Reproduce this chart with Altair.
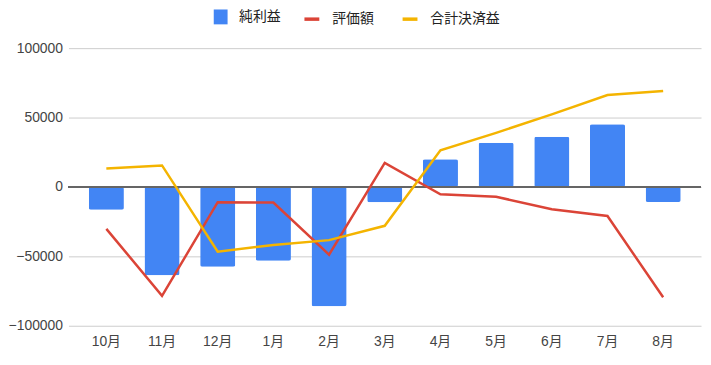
import altair as alt
import pandas as pd

months = ["10月", "11月", "12月", "1月", "2月", "3月", "4月", "5月", "6月", "7月", "8月"]
net_profit = [-16500, -63600, -57400, -53100, -86000, -11000, 20000, 31800, 36200, 45200, -10900]
valuation = [-30200, -78400, -11000, -11200, -48800, 17400, -5300, -7100, -16000, -20900, -79500]
settled_total = [13300, 15500, -46700, -41800, -38300, -28000, 26400, 39000, 52300, 66200, 69200]

bar_name = ["純利益"]
bar_color = ["#4285f4"]
line_names = ["評価額", "合計決済益"]
line_colors = ["#db4437", "#f4b400"]

bars_df = pd.DataFrame({"month": months, "value": net_profit, "series": bar_name[0]})
lines_df = pd.concat([
    pd.DataFrame({"month": months, "value": valuation, "series": line_names[0]}),
    pd.DataFrame({"month": months, "value": settled_total, "series": line_names[1]}),
])

FONT = "Liberation Sans, Arial, Noto Sans CJK JP, sans-serif"

x_enc = alt.X(
    "month:N", sort=months, title=None,
    scale=alt.Scale(paddingInner=0.37, paddingOuter=0.365),
    axis=alt.Axis(labelAngle=0, ticks=False, domain=False, grid=False,
                  labelFontSize=14, labelColor="#444", labelPadding=9, labelFont=FONT),
)
y_scale = alt.Scale(domain=[-100000, 100000], nice=False)
y_axis = alt.Axis(values=[-100000, -50000, 0, 50000, 100000], format="d", ticks=False,
                  domain=False, gridColor="#cccccc", gridWidth=1, labelFontSize=14,
                  labelColor="#444", labelPadding=6, labelFont=FONT)

bars = alt.Chart(bars_df).mark_bar(cornerRadius=2).encode(
    x=x_enc,
    y=alt.Y("value:Q", scale=y_scale, axis=y_axis, title=None),
    fill=alt.Fill(
        "series:N", title=None,
        scale=alt.Scale(domain=bar_name, range=bar_color),
        legend=alt.Legend(
            orient="none", direction="horizontal", legendX=146, legendY=-39,
            symbolType="M-0.93,-1L0.93,-1L0.93,1L-0.93,1Z", symbolSize=225,
            symbolStrokeWidth=0, symbolOpacity=1,
            labelFontSize=14, labelColor="#222", labelFont=FONT,
            labelOffset=11, padding=0,
        ),
    ),
)

zero = alt.Chart(bars_df).mark_rule(color="#666666", strokeWidth=1.5).encode(
    y=alt.datum(0)
)

lines = alt.Chart(lines_df).mark_line(strokeWidth=2.5).encode(
    x=alt.X("month:N", sort=months),
    y=alt.Y("value:Q", scale=y_scale),
    stroke=alt.Stroke(
        "series:N", title=None,
        scale=alt.Scale(domain=line_names, range=line_colors),
        legend=alt.Legend(
            orient="none", direction="horizontal", legendX=236, legendY=-39,
            symbolType="stroke", symbolSize=225, symbolStrokeWidth=3.5,
            labelFontSize=14, labelColor="#222", labelFont=FONT,
            labelOffset=11, columnPadding=22, padding=0,
        ),
    ),
)

chart = alt.layer(bars, zero, lines).resolve_legend(fill="independent", stroke="independent").properties(
    width=638, height=280,
    autosize=alt.AutoSizeParams(type="none"),
    padding={"left": 61, "top": 39, "right": 2, "bottom": 28},
).configure(font=FONT).configure_view(
    stroke="transparent", strokeWidth=0
)

chart.save("out.html", embed_options={"renderer": "svg", "actions": False})
